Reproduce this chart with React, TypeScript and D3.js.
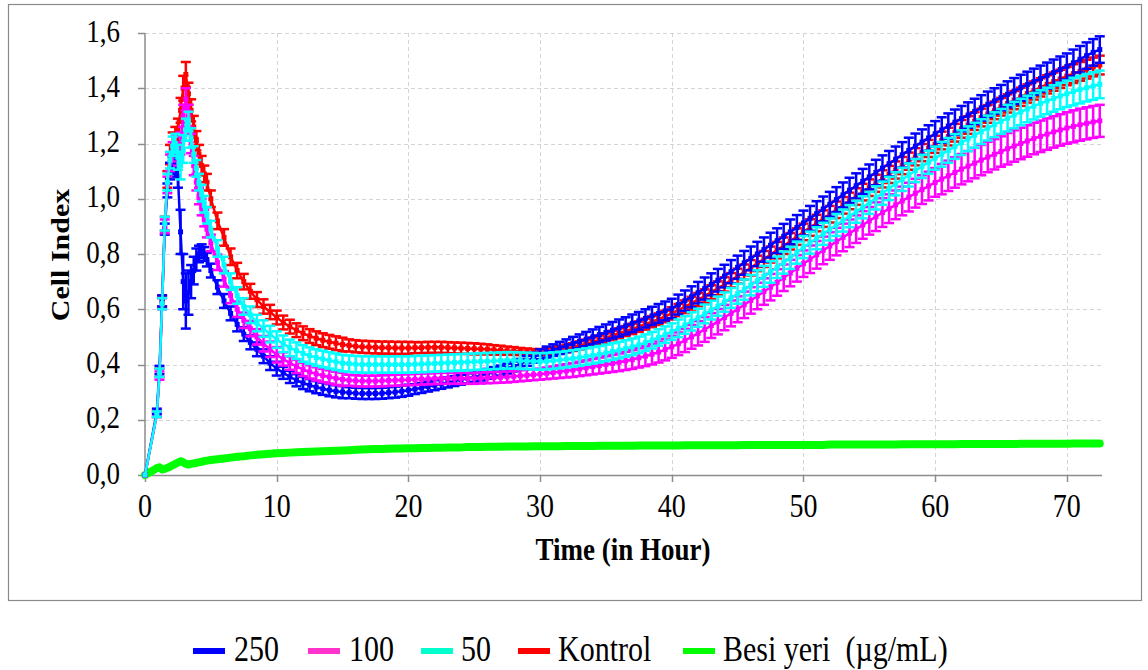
import React from 'react';
import * as d3 from 'd3';

// Time in hours
const TIME = [0, 0.9, 1.1, 1.3, 1.5, 1.7, 1.9, 2.1, 2.3, 2.5, 2.7, 2.9, 3.1, 3.3, 3.5, 3.7, 3.9, 4.1, 4.3, 4.5, 4.7, 5.0,
  5.5, 6, 6.5, 7, 7.5, 8, 8.5, 9, 9.5, 10,
  10.5, 11, 11.5, 12, 12.5, 13, 13.5, 14, 14.5, 15,
  15.5, 16, 16.5, 17, 17.5, 18, 18.5, 19, 19.5, 20,
  20.5, 21, 21.5, 22, 22.5, 23, 23.5, 24, 24.5, 25,
  25.5, 26, 26.5, 27, 27.5, 28, 28.5, 29, 29.5, 30,
  30.5, 31, 31.5, 32, 32.5, 33, 33.5, 34, 34.5, 35,
  35.5, 36, 36.5, 37, 37.5, 38, 38.5, 39, 39.5, 40,
  40.5, 41, 41.5, 42, 42.5, 43, 43.5, 44, 44.5, 45,
  45.5, 46, 46.5, 47, 47.5, 48, 48.5, 49, 49.5, 50,
  50.5, 51, 51.5, 52, 52.5, 53, 53.5, 54, 54.5, 55,
  55.5, 56, 56.5, 57, 57.5, 58, 58.5, 59, 59.5, 60,
  60.5, 61, 61.5, 62, 62.5, 63, 63.5, 64, 64.5, 65,
  65.5, 66, 66.5, 67, 67.5, 68, 68.5, 69, 69.5, 70,
  70.5, 71, 71.5, 72, 72.5];

// 250 µg/mL
const S250 = [0, 0.23, 0.38, 0.63, 0.89, 1.03, 1.10, 1.12, 1.11, 1.08, 0.88, 0.70, 0.63, 0.66, 0.70, 0.74, 0.78, 0.80, 0.81, 0.80, 0.78, 0.74,
  0.68, 0.63, 0.585, 0.545, 0.51, 0.48, 0.455, 0.43, 0.405, 0.385,
  0.37, 0.355, 0.343, 0.333, 0.325, 0.318, 0.312, 0.307, 0.303, 0.30,
  0.298, 0.296, 0.295, 0.295, 0.295, 0.296, 0.298, 0.30, 0.303, 0.307,
  0.311, 0.315, 0.32, 0.325, 0.33, 0.335, 0.34, 0.345, 0.35, 0.355,
  0.36, 0.366, 0.372, 0.378, 0.385, 0.393, 0.402, 0.413, 0.425, 0.437,
  0.445, 0.452, 0.46, 0.468, 0.476, 0.484, 0.492, 0.5, 0.508, 0.516,
  0.524, 0.532, 0.54, 0.549, 0.558, 0.567, 0.576, 0.585, 0.594, 0.603,
  0.617, 0.631, 0.645, 0.66, 0.675, 0.69, 0.705, 0.72, 0.736, 0.752,
  0.768, 0.784, 0.8, 0.816, 0.832, 0.848, 0.864, 0.88, 0.896, 0.912,
  0.929, 0.946, 0.963, 0.98, 0.997, 1.014, 1.031, 1.047, 1.063, 1.079,
  1.095, 1.111, 1.127, 1.143, 1.159, 1.175, 1.19, 1.205, 1.22, 1.235,
  1.249, 1.263, 1.277, 1.29, 1.303, 1.316, 1.329, 1.342, 1.354, 1.366,
  1.378, 1.39, 1.402, 1.413, 1.424, 1.435, 1.446, 1.457, 1.468, 1.479,
  1.492, 1.505, 1.518, 1.53, 1.54];
const SD250 = [0, 0.01, 0.015, 0.02, 0.02, 0.025, 0.03, 0.03, 0.03, 0.04, 0.08, 0.1, 0.1, 0.08, 0.06, 0.05, 0.04, 0.03, 0.025, 0.025, 0.025, 0.025,
  0.025, 0.025, 0.025, 0.025, 0.025, 0.025, 0.025, 0.025, 0.025, 0.025,
  0.022, 0.022, 0.022, 0.022, 0.022, 0.022, 0.022, 0.022, 0.022, 0.022,
  0.02, 0.02, 0.02, 0.02, 0.02, 0.02, 0.02, 0.02, 0.02, 0.02,
  0.018, 0.018, 0.018, 0.018, 0.018, 0.018, 0.018, 0.018, 0.018, 0.018,
  0.018, 0.018, 0.018, 0.018, 0.018, 0.018, 0.018, 0.018, 0.018, 0.018,
  0.02, 0.021, 0.022, 0.023, 0.024, 0.025, 0.026, 0.027, 0.028, 0.029,
  0.03, 0.031, 0.031, 0.032, 0.032, 0.033, 0.033, 0.034, 0.034, 0.035,
  0.036, 0.037, 0.038, 0.039, 0.04, 0.04, 0.041, 0.041, 0.042, 0.042,
  0.043, 0.043, 0.044, 0.044, 0.045, 0.045, 0.045, 0.045, 0.045, 0.045,
  0.045, 0.045, 0.045, 0.045, 0.045, 0.045, 0.045, 0.045, 0.045, 0.045,
  0.046, 0.046, 0.046, 0.046, 0.046, 0.046, 0.046, 0.046, 0.046, 0.046,
  0.046, 0.046, 0.046, 0.046, 0.046, 0.046, 0.046, 0.046, 0.046, 0.046,
  0.047, 0.047, 0.047, 0.047, 0.047, 0.047, 0.047, 0.047, 0.047, 0.047,
  0.048, 0.048, 0.048, 0.048, 0.048];

// 100 µg/mL
const S100 = [0, 0.22, 0.36, 0.62, 0.90, 1.05, 1.13, 1.17, 1.19, 1.16, 1.20, 1.30, 1.36, 1.30, 1.20, 1.12, 1.06, 1.01, 0.97, 0.93, 0.89, 0.84,
  0.77, 0.71, 0.65, 0.60, 0.56, 0.53, 0.50, 0.475, 0.455, 0.435,
  0.42, 0.405, 0.393, 0.382, 0.373, 0.366, 0.36, 0.355, 0.35, 0.346,
  0.343, 0.341, 0.34, 0.34, 0.34, 0.341, 0.342, 0.343, 0.344, 0.345,
  0.346, 0.347, 0.348, 0.349, 0.35, 0.35, 0.35, 0.35, 0.35, 0.35,
  0.351, 0.352, 0.353, 0.354, 0.355, 0.357, 0.359, 0.361, 0.363, 0.365,
  0.368, 0.371, 0.374, 0.377, 0.38, 0.384, 0.388, 0.392, 0.396, 0.40,
  0.404, 0.408, 0.413, 0.418, 0.424, 0.43, 0.437, 0.445, 0.454, 0.464,
  0.475, 0.487, 0.5, 0.513, 0.527, 0.541, 0.555, 0.57, 0.585, 0.6,
  0.616, 0.632, 0.648, 0.664, 0.68, 0.697, 0.714, 0.731, 0.748, 0.765,
  0.781, 0.797, 0.813, 0.829, 0.845, 0.86, 0.875, 0.89, 0.905, 0.92,
  0.935, 0.95, 0.964, 0.978, 0.992, 1.006, 1.02, 1.033, 1.046, 1.059,
  1.071, 1.083, 1.095, 1.107, 1.118, 1.129, 1.14, 1.151, 1.161, 1.171,
  1.181, 1.191, 1.2, 1.209, 1.218, 1.226, 1.234, 1.242, 1.249, 1.256,
  1.262, 1.268, 1.273, 1.278, 1.282];
const SD100 = [0, 0.01, 0.015, 0.02, 0.025, 0.03, 0.03, 0.035, 0.035, 0.04, 0.04, 0.04, 0.04, 0.04, 0.035, 0.035, 0.03, 0.03, 0.03, 0.03, 0.03, 0.03,
  0.028, 0.028, 0.028, 0.028, 0.028, 0.028, 0.028, 0.028, 0.028, 0.028,
  0.024, 0.024, 0.024, 0.024, 0.024, 0.024, 0.024, 0.024, 0.024, 0.024,
  0.02, 0.02, 0.02, 0.02, 0.02, 0.02, 0.02, 0.02, 0.02, 0.02,
  0.02, 0.02, 0.02, 0.02, 0.02, 0.02, 0.02, 0.02, 0.02, 0.02,
  0.02, 0.02, 0.02, 0.02, 0.02, 0.02, 0.02, 0.02, 0.02, 0.02,
  0.021, 0.022, 0.023, 0.024, 0.025, 0.026, 0.027, 0.028, 0.029, 0.03,
  0.031, 0.032, 0.033, 0.034, 0.035, 0.036, 0.037, 0.038, 0.039, 0.04,
  0.041, 0.042, 0.043, 0.044, 0.045, 0.045, 0.046, 0.046, 0.047, 0.047,
  0.048, 0.048, 0.048, 0.048, 0.048, 0.048, 0.048, 0.048, 0.048, 0.048,
  0.05, 0.05, 0.05, 0.05, 0.05, 0.05, 0.05, 0.05, 0.05, 0.05,
  0.052, 0.052, 0.052, 0.052, 0.052, 0.052, 0.052, 0.052, 0.052, 0.052,
  0.055, 0.055, 0.055, 0.055, 0.055, 0.055, 0.055, 0.055, 0.055, 0.055,
  0.057, 0.057, 0.057, 0.057, 0.057, 0.057, 0.057, 0.057, 0.057, 0.057,
  0.058, 0.058, 0.058, 0.058, 0.058];

// 50 µg/mL
const S50 = [0, 0.22, 0.37, 0.62, 0.91, 1.06, 1.14, 1.19, 1.20, 1.15, 1.12, 1.18, 1.25, 1.28, 1.22, 1.16, 1.11, 1.06, 1.02, 0.98, 0.94, 0.89,
  0.82, 0.76, 0.70, 0.65, 0.61, 0.58, 0.55, 0.53, 0.51, 0.49,
  0.475, 0.46, 0.45, 0.44, 0.432, 0.425, 0.42, 0.415, 0.41, 0.405,
  0.403, 0.401, 0.40, 0.40, 0.40, 0.40, 0.40, 0.40, 0.40, 0.40,
  0.401, 0.402, 0.403, 0.404, 0.405, 0.406, 0.407, 0.408, 0.409, 0.41,
  0.411, 0.412, 0.413, 0.414, 0.415, 0.415, 0.414, 0.413, 0.412, 0.411,
  0.412, 0.414, 0.416, 0.419, 0.422, 0.425, 0.429, 0.433, 0.437, 0.442,
  0.447, 0.452, 0.458, 0.464, 0.471, 0.479, 0.488, 0.498, 0.508, 0.519,
  0.531, 0.543, 0.556, 0.569, 0.583, 0.597, 0.611, 0.626, 0.641, 0.656,
  0.671, 0.687, 0.703, 0.719, 0.735, 0.752, 0.769, 0.786, 0.805, 0.825,
  0.841, 0.857, 0.873, 0.889, 0.905, 0.921, 0.937, 0.953, 0.969, 0.985,
  1.003, 1.02, 1.037, 1.054, 1.07, 1.086, 1.102, 1.117, 1.132, 1.147,
  1.161, 1.175, 1.189, 1.203, 1.217, 1.23, 1.243, 1.256, 1.268, 1.28,
  1.292, 1.303, 1.314, 1.325, 1.335, 1.345, 1.354, 1.363, 1.372, 1.38,
  1.388, 1.395, 1.402, 1.408, 1.414];
const SD50 = [0, 0.01, 0.015, 0.02, 0.025, 0.03, 0.03, 0.035, 0.035, 0.045, 0.05, 0.05, 0.04, 0.035, 0.035, 0.03, 0.03, 0.03, 0.03, 0.03, 0.03, 0.03,
  0.03, 0.03, 0.03, 0.03, 0.03, 0.03, 0.03, 0.03, 0.03, 0.03,
  0.03, 0.03, 0.03, 0.03, 0.03, 0.03, 0.03, 0.03, 0.03, 0.03,
  0.03, 0.03, 0.03, 0.03, 0.03, 0.03, 0.03, 0.03, 0.03, 0.03,
  0.03, 0.03, 0.03, 0.03, 0.03, 0.03, 0.03, 0.03, 0.03, 0.03,
  0.03, 0.03, 0.03, 0.03, 0.03, 0.03, 0.03, 0.03, 0.03, 0.03,
  0.03, 0.03, 0.03, 0.03, 0.03, 0.03, 0.03, 0.03, 0.03, 0.03,
  0.03, 0.03, 0.03, 0.03, 0.03, 0.03, 0.03, 0.03, 0.03, 0.03,
  0.032, 0.032, 0.033, 0.033, 0.034, 0.034, 0.035, 0.035, 0.036, 0.036,
  0.037, 0.037, 0.038, 0.038, 0.039, 0.039, 0.04, 0.04, 0.04, 0.04,
  0.04, 0.04, 0.04, 0.04, 0.04, 0.04, 0.04, 0.04, 0.04, 0.04,
  0.042, 0.042, 0.042, 0.042, 0.042, 0.042, 0.042, 0.042, 0.042, 0.042,
  0.045, 0.045, 0.045, 0.045, 0.045, 0.045, 0.045, 0.045, 0.045, 0.045,
  0.048, 0.048, 0.048, 0.048, 0.048, 0.048, 0.048, 0.048, 0.048, 0.048,
  0.05, 0.05, 0.05, 0.05, 0.05];

// Kontrol
const SK = [0, 0.22, 0.37, 0.63, 0.91, 1.07, 1.16, 1.20, 1.22, 1.25, 1.32, 1.40, 1.45, 1.38, 1.32, 1.26, 1.21, 1.16, 1.12, 1.09, 1.06, 1.00,
  0.92, 0.86, 0.79, 0.74, 0.70, 0.665, 0.635, 0.61, 0.59, 0.57,
  0.552, 0.537, 0.524, 0.513, 0.503, 0.495, 0.488, 0.482, 0.477, 0.472,
  0.469, 0.466, 0.464, 0.463, 0.462, 0.461, 0.461, 0.46, 0.46, 0.46,
  0.461, 0.461, 0.462, 0.462, 0.462, 0.461, 0.46, 0.459, 0.458, 0.457,
  0.456, 0.455, 0.453, 0.452, 0.45, 0.449, 0.447, 0.446, 0.445, 0.445,
  0.447, 0.45, 0.454, 0.458, 0.463, 0.469, 0.475, 0.482, 0.489, 0.496,
  0.505, 0.513, 0.521, 0.529, 0.537, 0.546, 0.555, 0.564, 0.574, 0.585,
  0.597, 0.609, 0.622, 0.635, 0.648, 0.662, 0.676, 0.69, 0.705, 0.72,
  0.735, 0.75, 0.766, 0.782, 0.798, 0.814, 0.83, 0.846, 0.863, 0.88,
  0.896, 0.912, 0.928, 0.944, 0.96, 0.976, 0.992, 1.008, 1.024, 1.04,
  1.056, 1.072, 1.088, 1.104, 1.12, 1.136, 1.152, 1.167, 1.182, 1.197,
  1.211, 1.225, 1.239, 1.253, 1.267, 1.281, 1.294, 1.307, 1.32, 1.333,
  1.345, 1.357, 1.369, 1.381, 1.392, 1.403, 1.414, 1.424, 1.434, 1.444,
  1.453, 1.461, 1.469, 1.477, 1.484];
const SDK = [0, 0.01, 0.015, 0.02, 0.025, 0.03, 0.035, 0.04, 0.04, 0.04, 0.045, 0.045, 0.045, 0.04, 0.04, 0.04, 0.035, 0.035, 0.035, 0.03, 0.03, 0.03,
  0.03, 0.03, 0.03, 0.028, 0.028, 0.027, 0.027, 0.026, 0.026, 0.025,
  0.025, 0.025, 0.025, 0.025, 0.025, 0.025, 0.025, 0.025, 0.025, 0.025,
  0.022, 0.022, 0.022, 0.022, 0.022, 0.022, 0.022, 0.022, 0.022, 0.022,
  0.02, 0.02, 0.02, 0.02, 0.02, 0.02, 0.02, 0.02, 0.02, 0.02,
  0.019, 0.018, 0.017, 0.016, 0.015, 0.014, 0.013, 0.012, 0.011, 0.011,
  0.012, 0.013, 0.013, 0.014, 0.014, 0.015, 0.015, 0.016, 0.016, 0.017,
  0.017, 0.018, 0.018, 0.019, 0.019, 0.02, 0.02, 0.021, 0.021, 0.022,
  0.022, 0.023, 0.023, 0.024, 0.024, 0.025, 0.025, 0.026, 0.026, 0.027,
  0.027, 0.028, 0.028, 0.029, 0.029, 0.03, 0.03, 0.03, 0.03, 0.03,
  0.03, 0.03, 0.03, 0.03, 0.03, 0.03, 0.03, 0.03, 0.03, 0.03,
  0.031, 0.031, 0.031, 0.031, 0.031, 0.031, 0.031, 0.031, 0.031, 0.031,
  0.032, 0.032, 0.032, 0.032, 0.032, 0.032, 0.032, 0.032, 0.032, 0.032,
  0.033, 0.033, 0.033, 0.033, 0.033, 0.033, 0.033, 0.033, 0.033, 0.033,
  0.034, 0.034, 0.034, 0.034, 0.034];

// Besi yeri (medium only)
const SB = [0, 0.025, 0.028, 0.02, 0.022, 0.026, 0.03, 0.035, 0.04, 0.045, 0.05, 0.046, 0.04, 0.038, 0.04, 0.042, 0.044, 0.046, 0.048, 0.05, 0.052, 0.054,
  0.057, 0.06, 0.063, 0.066, 0.068, 0.071, 0.073, 0.075, 0.077, 0.079,
  0.08, 0.081, 0.082, 0.083, 0.084, 0.085, 0.086, 0.087, 0.088, 0.089,
  0.09, 0.091, 0.092, 0.093, 0.094, 0.094, 0.095, 0.096, 0.096, 0.097,
  0.097, 0.098, 0.098, 0.099, 0.099, 0.1, 0.1, 0.1, 0.101, 0.101,
  0.101, 0.102, 0.102, 0.102, 0.103, 0.103, 0.103, 0.103, 0.104, 0.104,
  0.104, 0.104, 0.104, 0.105, 0.105, 0.105, 0.105, 0.105, 0.106, 0.106,
  0.106, 0.106, 0.106, 0.106, 0.107, 0.107, 0.107, 0.107, 0.107, 0.107,
  0.107, 0.108, 0.108, 0.108, 0.108, 0.108, 0.108, 0.108, 0.108, 0.108,
  0.109, 0.109, 0.109, 0.109, 0.109, 0.109, 0.109, 0.109, 0.109, 0.109,
  0.109, 0.109, 0.109, 0.11, 0.11, 0.11, 0.11, 0.11, 0.11, 0.11,
  0.11, 0.11, 0.11, 0.11, 0.111, 0.111, 0.111, 0.111, 0.111, 0.111,
  0.111, 0.111, 0.111, 0.112, 0.112, 0.112, 0.112, 0.112, 0.112, 0.112,
  0.112, 0.112, 0.113, 0.113, 0.113, 0.113, 0.113, 0.113, 0.113, 0.113,
  0.114, 0.114, 0.114, 0.114, 0.114];

const LEGEND_LABELS = ['250', '100', '50', 'Kontrol', 'Besi yeri\u00a0\u00a0(\u00b5g/mL)'];
const LEGEND_COLORS = ['#0000FF', '#FF33CC', '#00FFCC', '#FF0000', '#00FF00'];
const Y_TICKS = [0, 0.2, 0.4, 0.6, 0.8, 1.0, 1.2, 1.4, 1.6];
const Y_TICK_LABELS = ['0,0', '0,2', '0,4', '0,6', '0,8', '1,0', '1,2', '1,4', '1,6'];
const X_TICKS = [0, 10, 20, 30, 40, 50, 60, 70];
const X_TITLE = 'Time (in Hour)';
const Y_TITLE = 'Cell Index';

const FONT = "'Liberation Serif', 'Times New Roman', serif";
const STRETCH = 1.2;

type Series = { name: string; color: string; values: number[]; sd: number[] | null; width: number; marker: number };

export default function App() {
  const x = d3.scaleLinear().domain([0, 72.67]).range([145, 1102]);
  const y = d3.scaleLinear().domain([0, 1.6]).range([475, 33]);

  // draw order: medium, control, 250, 100, 50
  const series: Series[] = [
    { name: 'Besi yeri', color: '#00FF00', values: SB, sd: null, width: 8, marker: 0 },
    { name: 'Kontrol', color: '#FF0000', values: SK, sd: SDK, width: 2.5, marker: 5 },
    { name: '250', color: '#0000FF', values: S250, sd: SD250, width: 2.5, marker: 5 },
    { name: '100', color: '#FF00FF', values: S100, sd: SD100, width: 2.5, marker: 5 },
    { name: '50', color: '#00FFFF', values: S50, sd: SD50, width: 2.5, marker: 5 },
  ];

  const n = TIME.length;
  const idx = d3.range(n);

  const line = (vals: number[]) =>
    d3.line<number>()
      .defined((i) => vals[i] !== undefined)
      .x((i) => x(TIME[i]))
      .y((i) => y(vals[i]))(idx) || '';

  const capW = 5;

  const legendItems = [
    { sx: 193, tx: 234 },
    { sx: 308, tx: 349 },
    { sx: 421, tx: 461 },
    { sx: 518, tx: 558 },
    { sx: 683, tx: 723 },
  ];

  const stretchedText = (tx: number, ty: number, content: string, opts: any = {}) => (
    <text
      transform={`translate(${tx},${ty}) scale(1,${STRETCH})`}
      fontFamily={FONT}
      fontSize={opts.size || 27}
      fontWeight={opts.weight || 'normal'}
      textAnchor={opts.anchor || 'start'}
      fill="#000"
      style={{ whiteSpace: 'pre' }}
    >
      {content}
    </text>
  );

  return (
    <svg width={1148} height={670} style={{ position: 'absolute', left: 0, top: 0, background: '#fff' }}>
      <rect x={0} y={0} width={1148} height={670} fill="#fff" />
      {/* outer chart border */}
      <rect x={8.5} y={4.5} width={1133} height={596} fill="none" stroke="#8a8a8a" strokeWidth={1.2} />

      {/* gridlines */}
      <g stroke="#d4d4d4" strokeWidth={1} strokeDasharray="4,3">
        {Y_TICKS.filter((t) => t > 0).map((t) => (
          <line key={'hy' + t} x1={145} x2={1102} y1={Math.round(y(t)) + 0.5} y2={Math.round(y(t)) + 0.5} />
        ))}
        {X_TICKS.filter((t) => t > 0).map((t) => (
          <line key={'vx' + t} x1={Math.round(x(t)) + 0.5} x2={Math.round(x(t)) + 0.5} y1={33} y2={475} />
        ))}
      </g>

      {/* axes */}
      <g stroke="#8c8c8c" strokeWidth={1.5}>
        <line x1={145} x2={145} y1={33} y2={475.5} />
        <line x1={145} x2={1102} y1={475.5} y2={475.5} />
        {Y_TICKS.map((t) => (
          <line key={'ty' + t} x1={138} x2={145} y1={Math.round(y(t)) + 0.5} y2={Math.round(y(t)) + 0.5} />
        ))}
        {X_TICKS.map((t) => (
          <line key={'tx' + t} x1={Math.round(x(t)) + 0.5} x2={Math.round(x(t)) + 0.5} y1={475} y2={482} />
        ))}
      </g>

      {/* tick labels */}
      {Y_TICKS.map((t, i) => (
        <g key={'yl' + t}>{stretchedText(120, y(t) + 8.5, Y_TICK_LABELS[i], { anchor: 'end', size: 27 })}</g>
      ))}
      {X_TICKS.map((t) => (
        <g key={'xl' + t}>{stretchedText(x(t), 517, String(t), { anchor: 'middle', size: 28 })}</g>
      ))}

      {/* axis titles */}
      {stretchedText(623, 560, X_TITLE, { anchor: 'middle', size: 27, weight: 'bold' })}
      <text
        transform={`translate(69,255) rotate(-90) scale(${STRETCH},1)`}
        fontFamily={FONT}
        fontSize={25}
        fontWeight="bold"
        textAnchor="middle"
      >
        {Y_TITLE}
      </text>

      {/* series */}
      {series.map((s) => (
        <g key={s.name}>
          {s.sd && (
            <g stroke={s.color} fill="none">
              {idx.map((i) => {
                const v = s.values[i];
                const e = s.sd ? s.sd[i] : 0;
                if (v === undefined || !e) return null;
                const cx = x(TIME[i]);
                const yt = y(v + e);
                const yb = y(v - e);
                return (
                  <g key={i}>
                    <line x1={cx} x2={cx} y1={yt} y2={yb} strokeWidth={2.5} />
                    <line x1={cx - capW} x2={cx + capW} y1={yt} y2={yt} strokeWidth={2.5} />
                    <line x1={cx - capW} x2={cx + capW} y1={yb} y2={yb} strokeWidth={2.5} />
                  </g>
                );
              })}
            </g>
          )}
          <path d={line(s.values)} fill="none" stroke={s.color} strokeWidth={s.width} strokeLinejoin="round" strokeLinecap="round" />
          {s.marker > 0 &&
            idx.map((i) =>
              s.values[i] === undefined ? null : (
                <rect
                  key={'m' + i}
                  x={x(TIME[i]) - s.marker / 2}
                  y={y(s.values[i]) - s.marker / 2}
                  width={s.marker}
                  height={s.marker}
                  fill={s.color}
                />
              )
            )}
        </g>
      ))}

      {/* legend */}
      {LEGEND_LABELS.map((lab, i) => (
        <g key={'lg' + i}>
          <line x1={legendItems[i].sx} x2={legendItems[i].sx + 32} y1={651} y2={651} stroke={LEGEND_COLORS[i]} strokeWidth={6} />
          {stretchedText(legendItems[i].tx, 661, lab, { size: 30 })}
        </g>
      ))}
    </svg>
  );
}
